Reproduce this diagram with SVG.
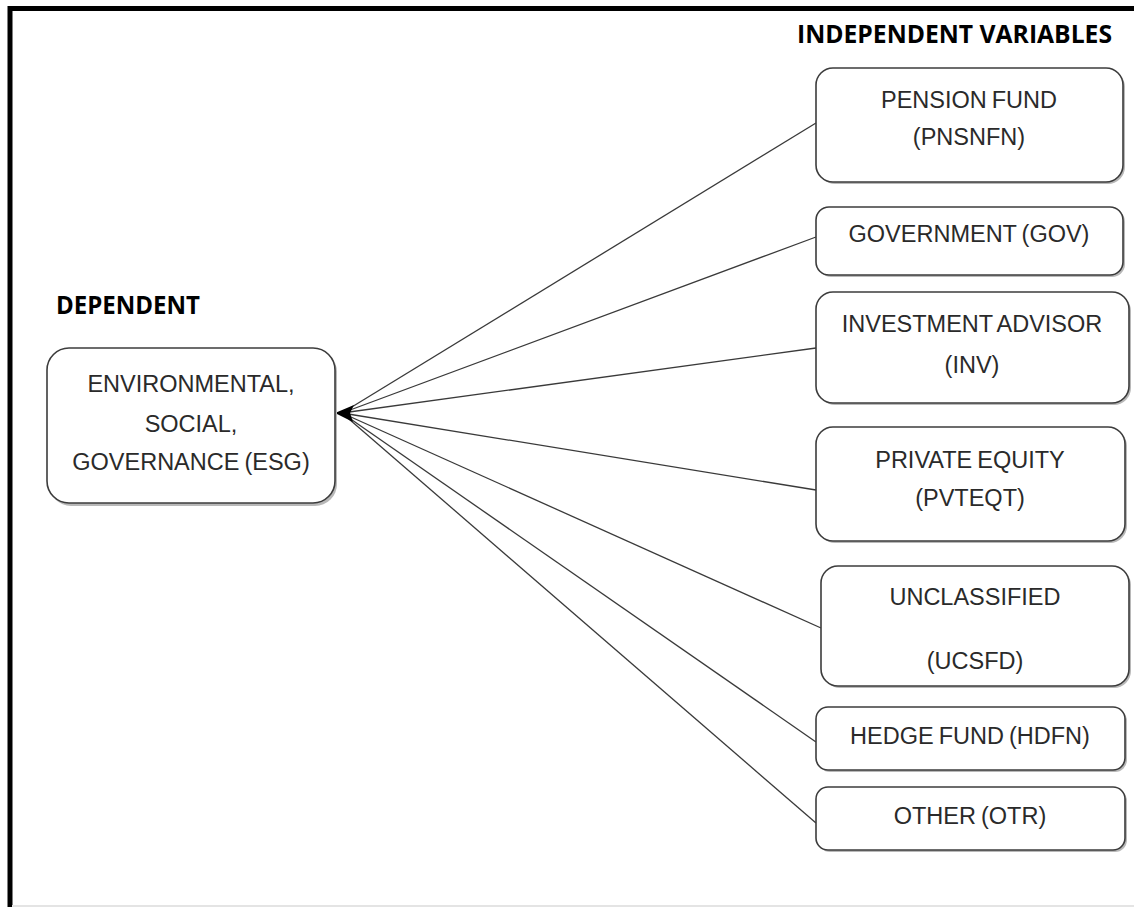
<svg xmlns="http://www.w3.org/2000/svg" width="1134" height="907" viewBox="0 0 1134 907">
  <style>
    .box { fill: #ffffff; stroke: #3c3c3c; stroke-width: 1.6; }
    .shadow { fill: #b8b8b8; stroke: none; }
    .lbl { font-family: "Liberation Sans", Arial, sans-serif; font-size: 23.5px; word-spacing: -1.5px; fill: #2a2a2a; text-anchor: middle; }
    .head { font-family: "Open Sans", "Liberation Sans", sans-serif; font-weight: bold; font-size: 25px; fill: #000000; }
    .conn { stroke: #3a3a3a; stroke-width: 1.3; fill: none; }
  </style>

  <rect x="0" y="0" width="1134" height="907" fill="#ffffff"/>

  <!-- frame: heavy top and left rules, faint base rule -->
  <g id="frame">
    <line x1="8" y1="8.5" x2="1134" y2="8.5" stroke="#000" stroke-width="5"/>
    <line x1="10" y1="6" x2="10" y2="907" stroke="#000" stroke-width="5"/>
    <line x1="12" y1="906" x2="1134" y2="906" stroke="#e4e4e4" stroke-width="2"/>
  </g>

  <!-- section headings -->
  <text class="head" x="797" y="43" textLength="315" lengthAdjust="spacingAndGlyphs">INDEPENDENT VARIABLES</text>
  <text class="head" x="56" y="314" textLength="144" lengthAdjust="spacingAndGlyphs">DEPENDENT</text>

  <!-- connectors: every independent variable points to ESG -->
  <g id="connectors">
    <line class="conn" x1="816" y1="123" x2="342" y2="413"/>
    <line class="conn" x1="816" y1="237" x2="342" y2="413"/>
    <line class="conn" x1="816" y1="348" x2="342" y2="413"/>
    <line class="conn" x1="816" y1="490" x2="342" y2="413"/>
    <line class="conn" x1="821" y1="628" x2="342" y2="413"/>
    <line class="conn" x1="816" y1="742" x2="342" y2="413"/>
    <line class="conn" x1="816" y1="823" x2="342" y2="413"/>
    <polygon points="335,413 354,405 350,413 353,422" fill="#000"/>
  </g>

  <g id="node-esg">
    <rect class="shadow" x="49" y="350" width="288" height="156" rx="22"/>
    <rect class="box" x="47" y="348" width="288" height="155" rx="22"/>
    <text class="lbl" x="191" y="392">ENVIRONMENTAL,</text>
    <text class="lbl" x="191" y="432">SOCIAL,</text>
    <text class="lbl" x="191" y="470">GOVERNANCE (ESG)</text>
  </g>

  <g id="node-pnsnfn">
    <rect class="shadow" x="818" y="70" width="307" height="114" rx="17"/>
    <rect class="box" x="816" y="68" width="307" height="114" rx="17"/>
    <text class="lbl" x="969" y="108">PENSION FUND</text>
    <text class="lbl" x="969" y="145">(PNSNFN)</text>
  </g>

  <g id="node-gov">
    <rect class="shadow" x="818" y="209" width="307" height="68" rx="13"/>
    <rect class="box" x="816" y="207" width="307" height="68" rx="13"/>
    <text class="lbl" x="969" y="242">GOVERNMENT (GOV)</text>
  </g>

  <g id="node-inv">
    <rect class="shadow" x="818" y="294" width="313" height="111" rx="17"/>
    <rect class="box" x="816" y="292" width="313" height="111" rx="17"/>
    <text class="lbl" x="972" y="332" word-spacing="-4">INVESTMENT ADVISOR</text>
    <text class="lbl" x="972" y="373">(INV)</text>
  </g>

  <g id="node-pvteqt">
    <rect class="shadow" x="818" y="429" width="309" height="114" rx="17"/>
    <rect class="box" x="816" y="427" width="309" height="114" rx="17"/>
    <text class="lbl" x="970" y="468">PRIVATE EQUITY</text>
    <text class="lbl" x="970" y="506">(PVTEQT)</text>
  </g>

  <g id="node-ucsfd">
    <rect class="shadow" x="823" y="568" width="308" height="120" rx="17"/>
    <rect class="box" x="821" y="566" width="308" height="120" rx="17"/>
    <text class="lbl" x="975" y="605">UNCLASSIFIED</text>
    <text class="lbl" x="975" y="669">(UCSFD)</text>
  </g>

  <g id="node-hdfn">
    <rect class="shadow" x="818" y="709" width="309" height="63" rx="12"/>
    <rect class="box" x="816" y="707" width="309" height="63" rx="12"/>
    <text class="lbl" x="970" y="744">HEDGE FUND (HDFN)</text>
  </g>

  <g id="node-otr">
    <rect class="shadow" x="818" y="789" width="309" height="63" rx="12"/>
    <rect class="box" x="816" y="787" width="309" height="63" rx="12"/>
    <text class="lbl" x="970" y="824">OTHER (OTR)</text>
  </g>
</svg>
